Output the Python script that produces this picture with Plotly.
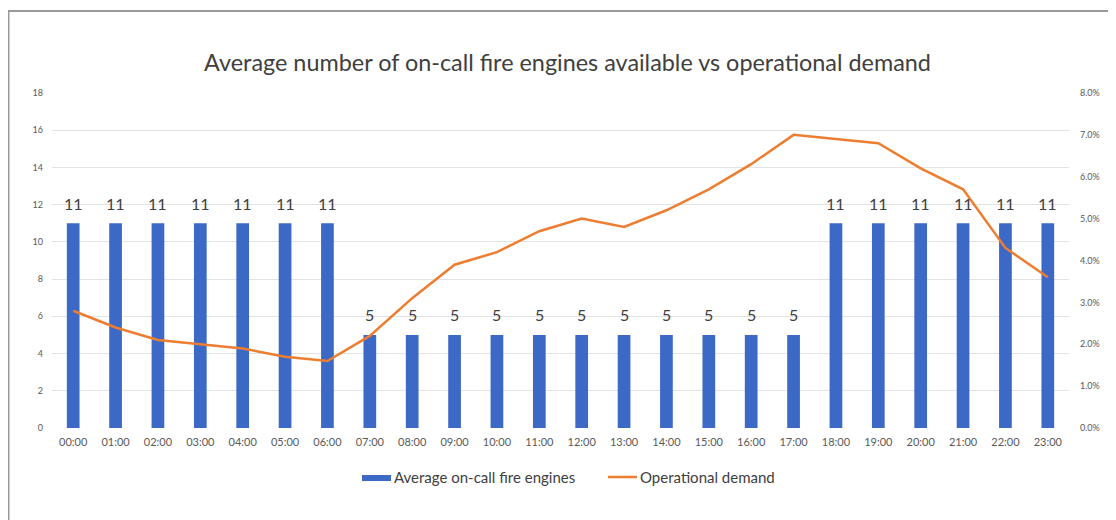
import plotly.graph_objects as go

hours = [f"{h:02d}:00" for h in range(24)]
engines = [11, 11, 11, 11, 11, 11, 11, 5, 5, 5, 5, 5, 5, 5, 5, 5, 5, 5, 11, 11, 11, 11, 11, 11]
demand = [0.028, 0.024, 0.021, 0.020, 0.019, 0.017, 0.016, 0.022, 0.031, 0.039, 0.042, 0.047, 0.050, 0.048,
          0.052, 0.057, 0.063, 0.070, 0.069, 0.068, 0.062, 0.057, 0.043, 0.036]
left_ticks = list(range(0, 19, 2))
right_ticks = [i / 100 for i in range(0, 9)]

FONT = "Lato"
BAR_COLOR = "#3D69C6"
LINE_COLOR = "#ED7D31"
TXT = "#404040"

fig = go.Figure()
fig.add_trace(go.Bar(
    x=hours, y=engines, name="Average on-call fire engines",
    marker=dict(color=BAR_COLOR, line=dict(width=0)),
    showlegend=False,
))
fig.add_trace(go.Scatter(
    x=hours, y=demand, name="Operational demand", yaxis="y2",
    mode="lines", line=dict(color=LINE_COLOR, width=2.5),
    showlegend=False,
))

annotations = [
    dict(x=h, y=v, xref="x", yref="y", text=str(v), showarrow=False,
         yshift=20, font=dict(size=16, color=TXT, family=FONT))
    for h, v in zip(hours, engines)
]
# manual legend texts
annotations += [
    dict(x=0.3343, y=-0.1463, xref="paper", yref="paper", xanchor="left", yanchor="middle",
         text="Average on-call fire engines", showarrow=False,
         font=dict(size=15, color=TXT, family=FONT)),
    dict(x=0.5762, y=-0.1463, xref="paper", yref="paper", xanchor="left", yanchor="middle",
         text="Operational demand", showarrow=False,
         font=dict(size=15, color=TXT, family=FONT)),
]

shapes = [
    dict(type="rect", xref="paper", yref="paper", x0=-0.0428, x1=1.2, y0=-0.5, y1=1.2448,
         line=dict(color="#9A9A9A", width=2), fillcolor="rgba(0,0,0,0)", layer="below"),
    dict(type="rect", xref="paper", yref="paper", x0=0.3048, x1=0.3333, y0=-0.1582, y1=-0.1403,
         line=dict(width=0), fillcolor=BAR_COLOR),
    dict(type="line", xref="paper", yref="paper", x0=0.5467, x1=0.5752, y0=-0.1463, y1=-0.1463,
         line=dict(color=LINE_COLOR, width=2.5)),
]

fig.update_layout(
    width=1108, height=512,
    paper_bgcolor="white", plot_bgcolor="white",
    margin=dict(l=44, r=47, t=85, b=92),
    title=dict(text="Average number of on-call fire engines available vs operational demand",
               x=0.505, xanchor="center", y=0.893, yanchor="middle",
               font=dict(size=23.4, color=TXT, family=FONT)),
    bargap=0.7,
    showlegend=False,
    xaxis=dict(tickfont=dict(size=11, color="#595959", family=FONT),
               showgrid=False, showline=False, ticks="", tickangle=0, ticklabelstandoff=6),
    yaxis=dict(range=[0, 18], tickvals=left_ticks, showgrid=True, gridcolor="#E3E3E3",
               tickfont=dict(size=9, color="#595959", family=FONT),
               zeroline=False, showline=False, ticklabelstandoff=8),
    yaxis2=dict(range=[0, 0.08], tickvals=right_ticks, tickformat=".1%", overlaying="y", side="right",
                showgrid=False, zeroline=False, showline=False, ticklabelstandoff=10,
                tickfont=dict(size=9, color="#595959", family=FONT)),
    annotations=annotations,
    shapes=shapes,
)

fig.write_html("out.html")
